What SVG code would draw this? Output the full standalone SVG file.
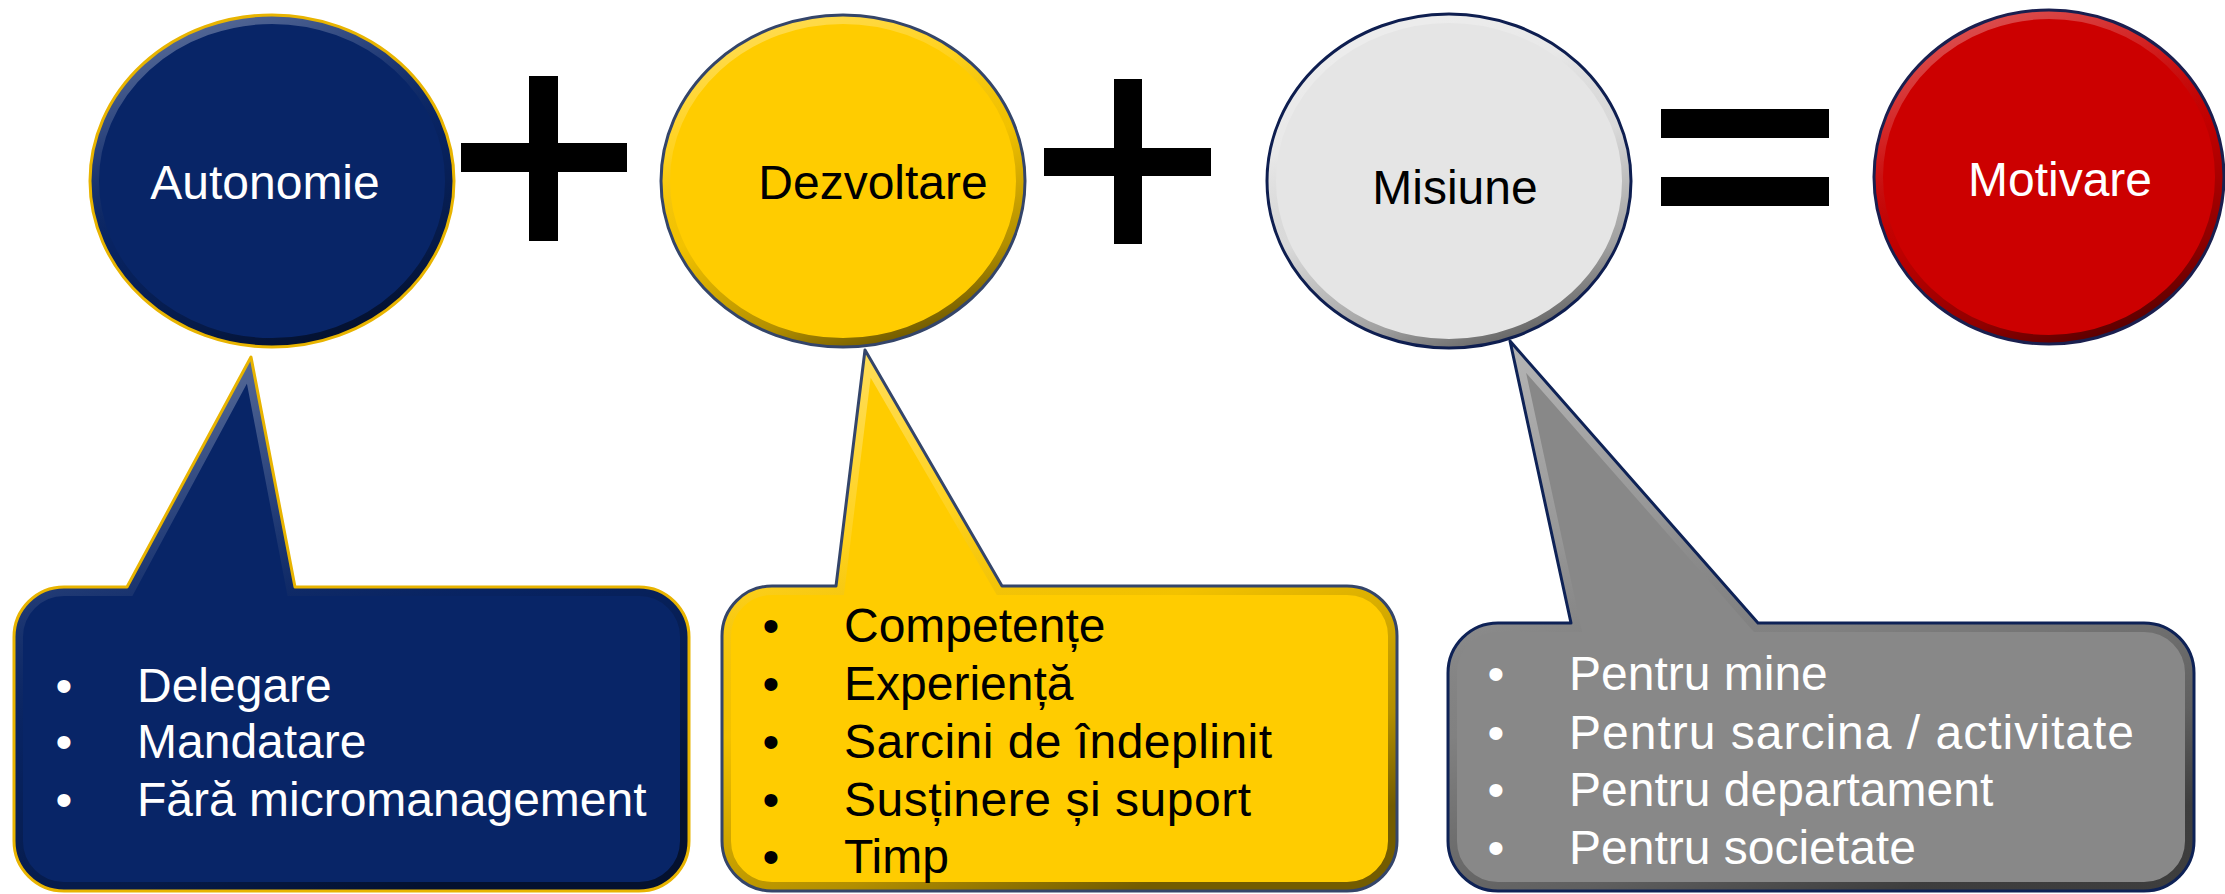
<svg xmlns="http://www.w3.org/2000/svg" xmlns:xlink="http://www.w3.org/1999/xlink" width="2225" height="894" viewBox="0 0 2225 894">
<style>
  .lbl { font-family: "Liberation Sans", Arial, sans-serif; font-size: 48px; }
  .item { font-family: "Liberation Sans", Arial, sans-serif; font-size: 48px; }
  .w { fill: #ffffff; }
  .k { fill: #000000; }
  .rim { fill: none; stroke: url(#rimGrad); stroke-width: 18; }
  .op { fill: #000000; }
</style>
<defs>
  <linearGradient id="rimGrad" x1="0.2" y1="0" x2="0.6" y2="1">
    <stop offset="0" stop-color="#ffffff" stop-opacity="0.35"/>
    <stop offset="0.3" stop-color="#ffffff" stop-opacity="0.12"/>
    <stop offset="0.55" stop-color="#000000" stop-opacity="0.05"/>
    <stop offset="0.85" stop-color="#000000" stop-opacity="0.3"/>
    <stop offset="1" stop-color="#000000" stop-opacity="0.55"/>
  </linearGradient>
  <ellipse id="e1" cx="272" cy="181" rx="182" ry="166"/>
  <ellipse id="e2" cx="843" cy="181" rx="182" ry="166"/>
  <ellipse id="e3" cx="1449" cy="181" rx="182" ry="167"/>
  <ellipse id="e4" cx="2049" cy="177" rx="175" ry="167"/>
  <path id="p1" d="M 64 587 L 127 587 L 251 357 L 295 587 L 639 587 A 50 50 0 0 1 689 637 L 689 841 A 50 50 0 0 1 639 891 L 64 891 A 50 50 0 0 1 14 841 L 14 637 A 50 50 0 0 1 64 587 Z"/>
  <path id="p2" d="M 772 586 L 836 586 L 865 350 L 1002 586 L 1347 586 A 50 50 0 0 1 1397 636 L 1397 841 A 50 50 0 0 1 1347 891 L 772 891 A 50 50 0 0 1 722 841 L 722 636 A 50 50 0 0 1 772 586 Z"/>
  <path id="p3" d="M 1498 623 L 1571 623 L 1510 341 L 1758 623 L 2144 623 A 50 50 0 0 1 2194 673 L 2194 841 A 50 50 0 0 1 2144 891 L 1498 891 A 50 50 0 0 1 1448 841 L 1448 673 A 50 50 0 0 1 1498 623 Z"/>
  <clipPath id="ce1"><use xlink:href="#e1"/></clipPath>
  <clipPath id="ce2"><use xlink:href="#e2"/></clipPath>
  <clipPath id="ce3"><use xlink:href="#e3"/></clipPath>
  <clipPath id="ce4"><use xlink:href="#e4"/></clipPath>
  <clipPath id="cp1"><use xlink:href="#p1"/></clipPath>
  <clipPath id="cp2"><use xlink:href="#p2"/></clipPath>
  <clipPath id="cp3"><use xlink:href="#p3"/></clipPath>
</defs>

<rect x="0" y="0" width="2225" height="894" fill="#ffffff"/>

<g id="node-autonomie">
  <use xlink:href="#e1" fill="#082567"/>
  <use xlink:href="#e1" class="rim" clip-path="url(#ce1)"/>
  <use xlink:href="#e1" fill="none" stroke="#E8B400" stroke-width="3"/>
  <text class="lbl w" x="265" y="199" text-anchor="middle">Autonomie</text>
</g>

<g id="node-dezvoltare">
  <use xlink:href="#e2" fill="#FFCC00"/>
  <use xlink:href="#e2" class="rim" clip-path="url(#ce2)"/>
  <use xlink:href="#e2" fill="none" stroke="#34456A" stroke-width="3"/>
  <text class="lbl k" x="873" y="199" text-anchor="middle">Dezvoltare</text>
</g>

<g id="node-misiune">
  <use xlink:href="#e3" fill="#E5E5E5"/>
  <use xlink:href="#e3" class="rim" clip-path="url(#ce3)"/>
  <use xlink:href="#e3" fill="none" stroke="#0E1E50" stroke-width="3"/>
  <text class="lbl k" x="1455" y="204" text-anchor="middle">Misiune</text>
</g>

<g id="node-motivare">
  <use xlink:href="#e4" fill="#CC0000"/>
  <use xlink:href="#e4" class="rim" clip-path="url(#ce4)"/>
  <use xlink:href="#e4" fill="none" stroke="#1A1F4F" stroke-width="3"/>
  <text class="lbl w" x="2060" y="196" text-anchor="middle">Motivare</text>
</g>

<g id="connectors">
  <g id="plus-1">
    <rect class="op" x="529" y="76" width="29" height="165"/>
    <rect class="op" x="461" y="143" width="166" height="29"/>
  </g>
  <g id="plus-2">
    <rect class="op" x="1114" y="79" width="28" height="165"/>
    <rect class="op" x="1044" y="148" width="167" height="28"/>
  </g>
  <g id="equals">
    <rect class="op" x="1661" y="109" width="168" height="29"/>
    <rect class="op" x="1661" y="177" width="168" height="29"/>
  </g>
</g>

<g id="callout-autonomie">
  <use xlink:href="#p1" fill="#082567"/>
  <use xlink:href="#p1" class="rim" clip-path="url(#cp1)"/>
  <use xlink:href="#p1" fill="none" stroke="#E8B400" stroke-width="3" stroke-linejoin="round"/>
  <g class="item w">
    <text x="64" y="702" text-anchor="middle">•</text>
    <text x="137" y="702">Delegare</text>
    <text x="64" y="758" text-anchor="middle">•</text>
    <text x="137" y="758">Mandatare</text>
    <text x="64" y="816" text-anchor="middle">•</text>
    <text x="137" y="816">Fără micromanagement</text>
  </g>
</g>

<g id="callout-dezvoltare">
  <use xlink:href="#p2" fill="#FFCC00"/>
  <use xlink:href="#p2" class="rim" clip-path="url(#cp2)"/>
  <use xlink:href="#p2" fill="none" stroke="#34456A" stroke-width="3" stroke-linejoin="round"/>
  <g class="item k">
    <text x="771" y="642" text-anchor="middle">•</text>
    <text x="844" y="642">Competențe</text>
    <text x="771" y="700" text-anchor="middle">•</text>
    <text x="844" y="700">Experiență</text>
    <text x="771" y="758" text-anchor="middle">•</text>
    <text x="844" y="758" textLength="428" lengthAdjust="spacing">Sarcini de îndeplinit</text>
    <text x="771" y="816" text-anchor="middle">•</text>
    <text x="844" y="816" textLength="407" lengthAdjust="spacing">Susținere și suport</text>
    <text x="771" y="873" text-anchor="middle">•</text>
    <text x="844" y="873">Timp</text>
  </g>
</g>

<g id="callout-misiune">
  <use xlink:href="#p3" fill="#888888"/>
  <use xlink:href="#p3" class="rim" clip-path="url(#cp3)"/>
  <use xlink:href="#p3" fill="none" stroke="#0E2256" stroke-width="3" stroke-linejoin="round"/>
  <g class="item w">
    <text x="1496" y="690" text-anchor="middle">•</text>
    <text x="1569" y="690">Pentru mine</text>
    <text x="1496" y="749" text-anchor="middle">•</text>
    <text x="1569" y="749" textLength="565" lengthAdjust="spacing">Pentru sarcina / activitate</text>
    <text x="1496" y="806" text-anchor="middle">•</text>
    <text x="1569" y="806">Pentru departament</text>
    <text x="1496" y="864" text-anchor="middle">•</text>
    <text x="1569" y="864">Pentru societate</text>
  </g>
</g>
</svg>
